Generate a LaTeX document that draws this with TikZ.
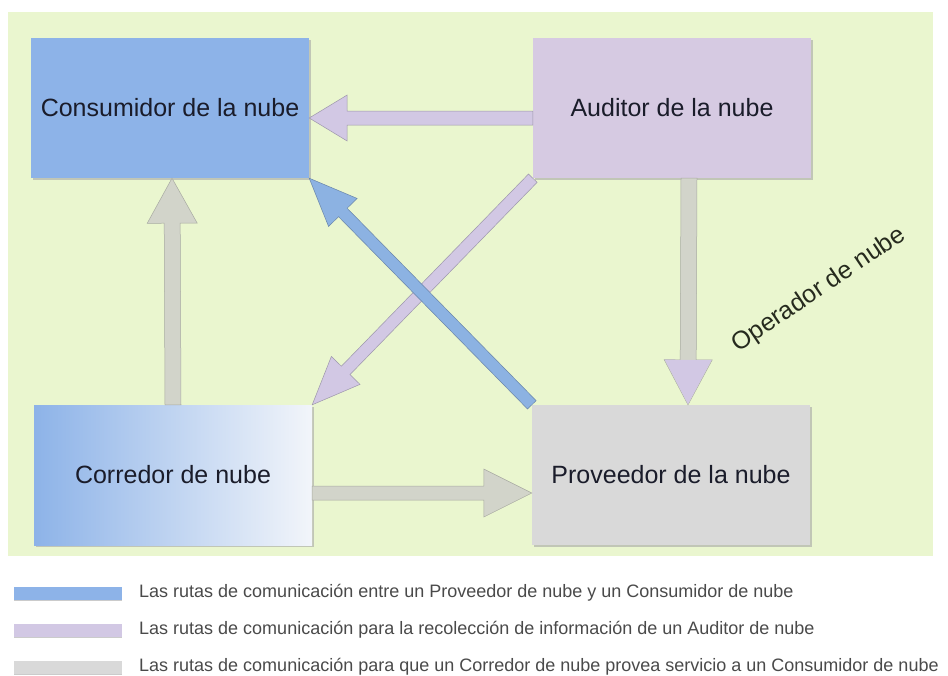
\documentclass[tikz,border=0pt]{standalone}
\usepackage{fontspec}
\setmainfont{Liberation Sans}
\usetikzlibrary{calc,shadows}

\definecolor{bgcol}{HTML}{EAF6CF}
\definecolor{consblue}{HTML}{8DB3E8}
\definecolor{audlav}{HTML}{D6CAE2}
\definecolor{provgray}{HTML}{D9D9D9}
\definecolor{brokerlight}{HTML}{F2F5FA}
\definecolor{arrlav}{HTML}{D2C8E4}
\definecolor{arrblue}{HTML}{8CB2E2}
\definecolor{arrgray}{HTML}{D2D4CA}
\definecolor{textdark}{HTML}{1A1C2A}
\definecolor{opertext}{HTML}{262A1E}
\definecolor{legtext}{HTML}{4A4A4A}

% block arrow: #1 style, #2 from, #3 to, #4 half shaft width, #5 half head width, #6 head length
\newcommand{\blockarrow}[6]{%
  \coordinate (ba-hb) at ($(#3)!#6!(#2)$);
  \path[#1] ($(#2)!#4!90:(#3)$) -- ($(ba-hb)!#4!90:(#3)$) -- ($(ba-hb)!#5!90:(#3)$)
    -- (#3) -- ($(ba-hb)!#5!-90:(#3)$) -- ($(ba-hb)!#4!-90:(#3)$) -- ($(#2)!#4!-90:(#3)$) -- cycle;
}

\tikzset{
  actor/.style={minimum width=278pt, minimum height=140pt, inner sep=0pt,
    font=\fontsize{25}{28}\selectfont, text=textdark,
    drop shadow={shadow xshift=1.5pt, shadow yshift=-2pt, fill=black!35, opacity=0.6}},
  lavarrow/.style={fill=arrlav, draw=arrlav!75!black, line width=0.5pt},
  bluearrow/.style={fill=arrblue, draw=arrblue!75!black, line width=0.5pt},
  grayarrow/.style={fill=arrgray, draw=arrgray!80!black, line width=0.5pt},
  swatch/.style={minimum width=108pt, minimum height=13pt, inner sep=0pt,
    drop shadow={shadow xshift=0pt, shadow yshift=-1.5pt, fill=black!40, opacity=0.5}},
  legend/.style={anchor=west, inner sep=0pt, font=\fontsize{18}{20}\selectfont, text=legtext}
}

\begin{document}
\begin{tikzpicture}[x=1pt, y=-1pt]
  \useasboundingbox (0,0) rectangle (948,675);
  \fill[white] (0,0) rectangle (948,675);
  \fill[bgcol] (8,12) rectangle (933,556);

  % the four actors
  \node[actor, fill=consblue] (con) at (170,108) {Consumidor de la nube};
  \node[actor, fill=audlav] (aud) at (672,108) {Auditor de la nube};
  \node[actor, left color=consblue, right color=brokerlight] (cor) at (173,475) {Corredor de nube};
  \node[actor, fill=provgray] (pro) at (671,475) {Proveedor de la nube};

  % end points of the straight connectors
  \coordinate (audW) at ($(aud.west)+(0,10)$);
  \coordinate (conE) at ($(con.east)+(0,10)$);
  \coordinate (audS) at ($(aud.south)+(17,0)$);
  \coordinate (proN) at ($(pro.north)+(17,0)$);
  \coordinate (corN) at ($(cor.north)+(0,0)$);
  \coordinate (conS) at ($(con.south)+(2,0)$);
  \coordinate (corE) at ($(cor.east)+(0,18)$);
  \coordinate (proW) at ($(pro.west)+(0,18)$);

  % connectors
  \blockarrow{lavarrow}{audW}{conE}{7pt}{23pt}{38pt}
  \blockarrow{lavarrow}{aud.south west}{cor.north east}{6pt}{20pt}{48pt}
  \blockarrow{bluearrow}{pro.north west}{con.south east}{6pt}{20pt}{48pt}
  \blockarrow{grayarrow}{corN}{conS}{8pt}{25pt}{45pt}
  \blockarrow{grayarrow}{corE}{proW}{7pt}{24pt}{48pt}
  \blockarrow{grayarrow}{audS}{proN}{8pt}{24pt}{45pt}
  \fill[arrlav] ($(ba-hb)!23.5pt!90:(proN)$) -- ($(proN)+(0,-0.5)$) -- ($(ba-hb)!23.5pt!-90:(proN)$) -- cycle;

  \node[rotate=34, font=\fontsize{25}{28}\selectfont, text=opertext, inner sep=0pt] (oper) at (819,290) {Operador de nube};

  % legend
  \node[swatch, fill=consblue] (sw1) at (68,593) {};
  \node[swatch, fill=arrlav] (sw2) at (68,630) {};
  \node[swatch, fill=provgray] (sw3) at (68,667) {};
  \node[legend] (lg1) at (139,593) {Las rutas de comunicación entre un Proveedor de nube y un Consumidor de nube};
  \node[legend] (lg2) at (139,630) {Las rutas de comunicación para la recolección de información de un Auditor de nube};
  \node[legend] (lg3) at (139,667) {Las rutas de comunicación para que un Corredor de nube provea servicio a un Consumidor de nube};
\end{tikzpicture}
\end{document}
